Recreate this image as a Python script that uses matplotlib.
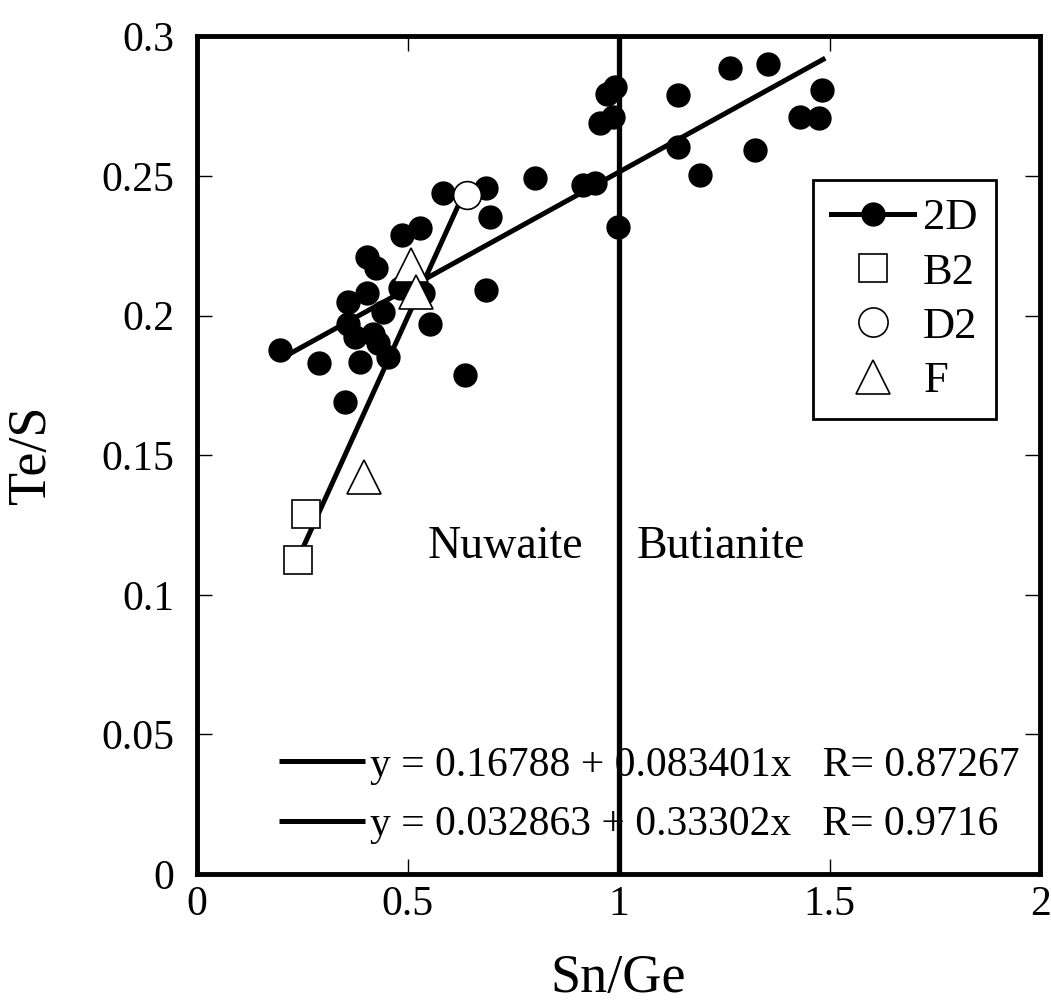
import matplotlib
matplotlib.use("Agg")
import matplotlib.pyplot as plt
from matplotlib.lines import Line2D
import numpy as np

plt.rcParams['font.family'] = ['Liberation Serif', 'DejaVu Serif']

# 2D 数据点 (Sn/Ge, Te/S)
x_2d = [0.197, 0.290, 0.351, 0.387, 0.359, 0.403, 0.359, 0.375, 0.418, 0.430,
        0.454, 0.442, 0.403, 0.426, 0.486, 0.529, 0.482, 0.537, 0.553, 0.636,
        0.584, 0.687, 0.695, 0.687, 0.802, 0.972, 0.992, 0.956, 0.988, 1.142,
        1.265, 1.355, 1.482, 1.431, 1.474, 1.142, 1.324, 1.193, 0.917, 0.944,
        0.9996]
y_2d = [0.1876, 0.1829, 0.169, 0.1834, 0.2049, 0.2079, 0.1971, 0.1923, 0.1935, 0.190,
        0.1852, 0.2013, 0.221, 0.2169, 0.2288, 0.2312, 0.2097, 0.2079, 0.1971, 0.1787,
        0.2437, 0.2455, 0.2353, 0.2091, 0.2491, 0.2795, 0.2819, 0.2688, 0.2711, 0.2789,
        0.2885, 0.2902, 0.2807, 0.2711, 0.2706, 0.2604, 0.2592, 0.2503, 0.2467, 0.2473,
        0.2318]
x_b2 = [0.260, 0.240]
y_b2 = [0.1291, 0.1124]
x_d2 = [0.640]
y_d2 = [0.2431]
x_f = [0.509, 0.521, 0.397]
y_f = [0.218, 0.2085, 0.1422]

# 拟合参数: 截距, 斜率, R, x范围
fit1 = (0.16788, 0.083401, 0.87267, 0.20, 1.49)
fit2 = (0.032863, 0.33302, 0.9716, 0.252, 0.64)

fig = plt.figure(figsize=(10.51, 10.07), dpi=100)
ax = fig.add_axes([0.187, 0.132, 0.803, 0.832])

lines = []
for a, b, r, x0, x1 in (fit1, fit2):
    xx = np.array([x0, x1])
    ln, = ax.plot(xx, a + b * xx, color='black', lw=3.6, solid_capstyle='butt', zorder=2)
    lines.append(ln)

ax.axvline(1.0, color='black', lw=3.8, zorder=2)

ax.plot(x_2d, y_2d, 'o', color='black', ms=16.5, zorder=3)
ax.plot(x_b2, y_b2, 's', mfc='white', mec='black', mew=1.2, ms=20, zorder=4)
ax.plot(x_d2, y_d2, 'o', mfc='white', mec='black', mew=1.2, ms=20, zorder=4)
ax.plot(x_f, y_f, '^', mfc='white', mec='black', mew=1.2, ms=24, zorder=4)

ax.text(0.548, 0.1131, 'Nuwaite', fontsize=33, ha='left', va='baseline')
ax.text(1.044, 0.1131, 'Butianite', fontsize=33, ha='left', va='baseline')

ax.set_xlim(0, 2)
ax.set_ylim(0, 0.3)
ax.set_xticks([0, 0.5, 1, 1.5, 2])
ax.set_xticklabels(['0', '0.5', '1', '1.5', '2'])
ax.set_yticks(np.arange(0, 0.301, 0.05))
ax.set_yticklabels(['0', '0.05', '0.1', '0.15', '0.2', '0.25', '0.3'])
ax.tick_params(direction='in', length=11, width=1.0, labelsize=30, top=True, right=True)
ax.tick_params(axis='x', pad=8)
ax.tick_params(axis='y', pad=16)
for s in ax.spines.values():
    s.set_linewidth(3.5)
ax.set_xlabel('Sn/Ge', fontsize=39)
ax.set_ylabel('Te/S', fontsize=39)
ax.xaxis.set_label_coords(0.5, -0.095)
ax.yaxis.set_label_coords(-0.165, 0.5)

h2d_leg = Line2D([], [], color='black', lw=3.6, marker='o', ms=16.5)
hb2_leg = Line2D([], [], ls='none', marker='s', mfc='white', mec='black', mew=1.2, ms=20)
hd2_leg = Line2D([], [], ls='none', marker='o', mfc='white', mec='black', mew=1.2, ms=21)
hf_leg = Line2D([], [], ls='none', marker='^', mfc='white', mec='black', mew=1.2, ms=24)
leg = ax.legend([h2d_leg, hb2_leg, hd2_leg, hf_leg], ['2D', 'B2', 'D2', 'F'],
                loc='upper left', bbox_to_anchor=(0.731, 0.828), borderaxespad=0,
                fontsize=32, frameon=True, fancybox=False, edgecolor='black',
                framealpha=1, handlelength=1.87, labelspacing=0.32, borderpad=0.4,
                handletextpad=0.2)
leg.get_frame().set_linewidth(2)
ax.add_artist(leg)

eq_labels = ['y = %s + %sx   R= %s' % (f[0], f[1], f[2]) for f in (fit1, fit2)]
ax.legend(lines, eq_labels, loc='center left', bbox_to_anchor=(0.098, 0.094),
          borderaxespad=0, borderpad=0, fontsize=30, frameon=False,
          handlelength=2.05, handletextpad=0.12, labelspacing=0.5)

fig.savefig('out.png', dpi=100)
